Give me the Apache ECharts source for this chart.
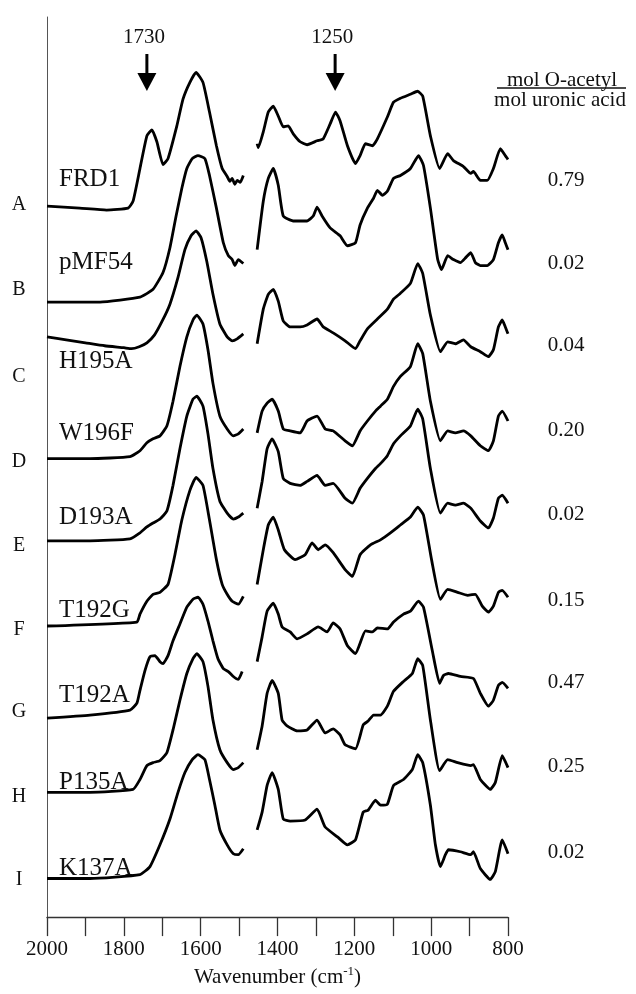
<!DOCTYPE html>
<html>
<head>
<meta charset="utf-8">
<script src="https://cdn.jsdelivr.net/npm/echarts@6/dist/echarts.min.js"></script>
<style>
  html, body { margin: 0; padding: 0; background: #fff; }
  #chart { width: 636px; height: 994px; }
</style>
</head>
<body>
<div id="chart"></div>
<script>
// sample letters, strain names and O-acetyl ratios (top to bottom)
const letters = ['A', 'B', 'C', 'D', 'E', 'F', 'G', 'H', 'I']
const strains = ['FRD1', 'pMF54', 'H195A', 'W196F', 'D193A', 'T192G', 'T192A', 'P135A', 'K137A']
const ratios = ['0.79', '0.02', '0.04', '0.20', '0.02', '0.15', '0.47', '0.25', '0.02']
// vertical offset of each spectrum (stacked plot, arbitrary absorbance units)
const offsets = [716, 620, 574, 461, 378, 294, 202, 124, 39]
// marked bands
const markWn = [1740, 1250]
const markText = ['1730', '1250']

// spectra: [wavenumber, absorbance above own baseline]
const frd1Left = [[2000,2],[1915,0],[1845,-2],[1789,0],[1776,7],[1758,40],[1740,73],[1727,79],[1714,67],[1698,44],[1685,50],[1662,83],[1646,110],[1628,127],[1612,137],[1594,127],[1577,97],[1559,63],[1544,40],[1531,32],[1524,27],[1518,30],[1511,24],[1505,28],[1497,26],[1489,33]]
const frd1Right = [[1453,65],[1450,61],[1437,77],[1424,97],[1411,103],[1398,93],[1385,82],[1372,83],[1359,75],[1341,67],[1323,64],[1297,68],[1281,70],[1263,85],[1249,97],[1237,88],[1218,63],[1197,45],[1185,53],[1171,65],[1153,63],[1140,70],[1114,92],[1098,107],[1080,111],[1054,115],[1035,118],[1022,113],[1002,73],[978,40],[957,55],[942,48],[916,42],[897,35],[890,37],[872,28],[854,28],[838,40],[820,60],[807,53],[800,49]]

const pmf54Left = [[2000,1],[1862,1],[1758,6],[1724,14],[1698,31],[1680,56],[1664,88],[1649,116],[1636,136],[1622,146],[1607,149],[1589,146],[1577,129],[1559,96],[1541,61],[1528,48],[1518,44],[1511,38],[1502,44],[1489,40]]
const pmf54Right = [[1453,54],[1437,103],[1424,126],[1411,136],[1398,119],[1385,88],[1359,83],[1323,83],[1307,88],[1297,97],[1284,88],[1263,76],[1237,68],[1218,58],[1197,61],[1185,79],[1166,96],[1150,106],[1140,114],[1127,109],[1114,113],[1098,126],[1080,129],[1054,136],[1033,149],[1020,139],[1002,96],[983,44],[973,34],[957,48],[942,44],[924,41],[910,46],[897,51],[885,41],[872,38],[854,38],[838,44],[825,61],[815,69],[807,61],[800,54]]

const h195aLeft = [[2000,12],[1950,9],[1900,6],[1850,3],[1800,1],[1780,0],[1760,2],[1740,6],[1720,14],[1700,28],[1680,45],[1659,72],[1641,100],[1625,114],[1612,119],[1599,112],[1584,88],[1568,55],[1550,25],[1531,12],[1518,8],[1505,10],[1489,15]]
const h195aRight = [[1453,5],[1437,40],[1424,55],[1411,60],[1398,48],[1385,28],[1367,22],[1341,22],[1323,24],[1297,30],[1281,22],[1255,16],[1224,8],[1197,0],[1185,8],[1166,20],[1140,30],[1114,40],[1098,50],[1080,56],[1054,66],[1035,86],[1022,76],[1002,34],[976,-3],[957,7],[937,5],[916,9],[897,2],[872,-3],[851,-8],[838,-1],[825,22],[815,29],[807,22],[800,15]]

const w196fLeft = [[2000,2],[1888,2],[1784,4],[1758,10],[1740,18],[1724,22],[1706,25],[1688,35],[1672,60],[1654,95],[1636,125],[1620,142],[1610,147],[1594,138],[1581,112],[1568,78],[1550,45],[1531,32],[1515,25],[1502,27],[1489,32]]
const w196fRight = [[1453,28],[1440,50],[1427,58],[1414,62],[1398,50],[1385,32],[1367,30],[1341,28],[1323,40],[1297,45],[1276,32],[1255,30],[1224,20],[1205,15],[1185,30],[1166,40],[1145,50],[1132,55],[1114,62],[1098,75],[1080,85],[1054,95],[1035,118],[1022,108],[1002,60],[976,20],[957,30],[937,28],[916,30],[897,25],[872,15],[851,10],[838,20],[825,45],[815,50],[800,40]]

const d193aLeft = [[2000,2],[1888,2],[1784,4],[1758,10],[1740,16],[1724,20],[1706,24],[1688,32],[1672,58],[1654,95],[1636,128],[1620,145],[1610,148],[1594,138],[1581,110],[1568,75],[1550,42],[1531,30],[1515,24],[1502,26],[1489,30]]
const d193aRight = [[1453,35],[1440,62],[1427,95],[1414,105],[1398,92],[1385,65],[1367,60],[1341,58],[1323,62],[1297,68],[1276,58],[1255,60],[1224,45],[1205,40],[1185,55],[1166,65],[1145,75],[1132,80],[1114,88],[1098,100],[1080,108],[1054,118],[1035,135],[1022,125],[1002,75],[976,30],[957,40],[937,38],[916,40],[897,35],[872,22],[851,15],[838,25],[825,45],[815,48],[800,40]]

const t192gLeft = [[2000,0],[1766,4],[1758,12],[1740,25],[1724,32],[1706,34],[1685,42],[1667,72],[1649,107],[1628,137],[1612,150],[1594,142],[1577,107],[1559,67],[1544,42],[1531,32],[1518,25],[1502,22],[1489,30]]
const t192gRight = [[1453,42],[1437,77],[1424,102],[1411,110],[1398,97],[1382,77],[1354,67],[1328,72],[1310,84],[1294,77],[1276,82],[1255,74],[1224,57],[1205,50],[1185,72],[1158,82],[1132,87],[1106,94],[1080,102],[1054,110],[1035,120],[1020,112],[999,67],[976,27],[957,37],[931,34],[905,31],[885,32],[867,20],[851,14],[838,20],[825,34],[815,36],[800,29]]

const t192aLeft = [[2000,-1],[1888,2],[1784,7],[1766,14],[1758,27],[1745,47],[1732,61],[1719,62],[1706,56],[1698,54],[1685,62],[1672,77],[1654,94],[1636,111],[1620,119],[1607,121],[1594,114],[1581,97],[1568,77],[1555,59],[1541,49],[1528,46],[1515,41],[1502,38],[1492,46]]
const t192aRight = [[1453,56],[1440,81],[1427,107],[1411,115],[1398,104],[1388,91],[1367,86],[1349,79],[1323,84],[1294,91],[1271,86],[1255,95],[1237,89],[1218,72],[1197,64],[1171,87],[1153,86],[1140,90],[1114,89],[1098,96],[1072,104],[1054,107],[1033,117],[1020,111],[997,67],[978,34],[968,42],[955,44],[924,41],[890,39],[872,24],[851,11],[838,17],[825,32],[815,35],[800,29]]

const p135aLeft = [[2000,2],[1888,2],[1776,5],[1758,15],[1740,29],[1724,32],[1706,34],[1688,42],[1672,65],[1654,95],[1636,122],[1620,137],[1610,142],[1594,134],[1581,109],[1568,75],[1550,45],[1531,32],[1515,25],[1502,27],[1489,32]]
const p135aRight = [[1453,45],[1440,69],[1427,102],[1414,115],[1398,102],[1388,75],[1375,69],[1349,64],[1323,65],[1297,75],[1276,62],[1255,66],[1237,60],[1224,50],[1197,46],[1177,70],[1164,74],[1150,80],[1132,80],[1114,89],[1098,104],[1072,114],[1049,122],[1035,137],[1022,130],[1002,75],[978,24],[957,35],[931,32],[897,29],[890,30],[872,15],[846,5],[833,12],[815,39],[800,27]]

const k137aLeft = [[2000,0],[1888,0],[1758,4],[1732,12],[1706,34],[1680,60],[1659,87],[1641,107],[1622,120],[1607,125],[1589,120],[1577,100],[1563,74],[1550,49],[1531,34],[1515,25],[1502,24],[1489,30]]
const k137aRight = [[1453,49],[1440,67],[1427,94],[1414,107],[1398,90],[1385,60],[1367,58],[1328,59],[1297,70],[1276,52],[1244,42],[1218,34],[1197,39],[1177,67],[1164,69],[1145,79],[1132,74],[1114,75],[1098,94],[1072,100],[1049,110],[1035,125],[1022,117],[1002,74],[989,34],[976,12],[963,24],[955,29],[924,27],[897,24],[890,27],[872,10],[846,-1],[833,7],[815,39],[800,25]]

const spectra = [
  [frd1Left, frd1Right], [pmf54Left, pmf54Right], [h195aLeft, h195aRight],
  [w196fLeft, w196fRight], [d193aLeft, d193aRight], [t192gLeft, t192gRight],
  [t192aLeft, t192aRight], [p135aLeft, p135aRight], [k137aLeft, k137aRight]
]

const FONT = '"Liberation Serif", "Times New Roman", serif'
const chart = echarts.init(document.getElementById('chart'))

const seriesItems = []
spectra.forEach((segs, i) => {
  segs.forEach(seg => {
    seriesItems.push({
      type: 'line',
      data: seg.map(([wn, a]) => [wn, a + offsets[i]]),
      symbol: 'none',
      smooth: 0.15,
      silent: true,
      lineStyle: { color: '#000', width: 2.8 }
    })
  })
})

const options = {
  animation: false,
  grid: { left: 47, right: 128, top: 17, bottom: 68 },
  xAxis: {
    type: 'value',
    min: 800,
    max: 2000,
    interval: 100,
    inverse: true,
    axisLine: { lineStyle: { color: '#333', width: 1.3 } },
    axisTick: { length: 19, lineStyle: { color: '#333', width: 1.3 } },
    axisLabel: {
      formatter: v => (v % 200 === 0 ? String(v) : ''),
      fontSize: 21,
      fontFamily: FONT,
      color: '#111',
      margin: 22
    },
    splitLine: { show: false },
    name: 'Wavenumber (cm{sup|-1})',
    nameLocation: 'middle',
    nameGap: 42,
    nameTextStyle: {
      fontSize: 21,
      fontFamily: FONT,
      color: '#111',
      lineHeight: 24,
      rich: { sup: { fontSize: 13, fontFamily: FONT, color: '#111', verticalAlign: 'top', lineHeight: 14 } }
    }
  },
  yAxis: {
    type: 'value',
    min: 0,
    max: 909,
    axisLine: { show: true, lineStyle: { color: '#555', width: 1 } },
    axisTick: { show: false },
    axisLabel: { show: false },
    splitLine: { show: false }
  },
  series: seriesItems
}
chart.setOption(options)

// annotations: letters, strain names, ratios, header and band arrows
const textStyle = (extra) => Object.assign({ fontSize: 21, fontFamily: FONT, fill: '#111' }, extra)
const letterY = [205, 290, 377, 462, 546, 630, 712, 797, 880]
const strainY = [179, 262, 361, 433, 517, 610, 695, 782, 868]
const ratioY = [180, 263, 345, 430, 514, 600, 682, 766, 852]

const graphics = []
letters.forEach((t, i) => {
  graphics.push({ type: 'text', x: 19, y: letterY[i], style: textStyle({ text: t, fontSize: 20, align: 'center', verticalAlign: 'middle' }) })
  graphics.push({ type: 'text', x: 59, y: strainY[i], style: textStyle({ text: strains[i], fontSize: 25, align: 'left', verticalAlign: 'middle' }) })
  graphics.push({ type: 'text', x: 566, y: ratioY[i], style: textStyle({ text: ratios[i], align: 'center', verticalAlign: 'middle' }) })
})
graphics.push({ type: 'text', x: 562, y: 80, style: textStyle({ text: 'mol O-acetyl', align: 'center', verticalAlign: 'middle' }) })
graphics.push({ type: 'line', shape: { x1: 497, y1: 88, x2: 626, y2: 88 }, style: { stroke: '#111', lineWidth: 1.4 } })
graphics.push({ type: 'text', x: 560, y: 100, style: textStyle({ text: 'mol uronic acid', align: 'center', verticalAlign: 'middle' }) })

markWn.forEach((wn, i) => {
  const x = chart.convertToPixel({ xAxisIndex: 0 }, wn)
  graphics.push({ type: 'text', x: x - 3, y: 37, style: textStyle({ text: markText[i], align: 'center', verticalAlign: 'middle' }) })
  graphics.push({ type: 'rect', shape: { x: x - 1.5, y: 54, width: 3, height: 22 }, style: { fill: '#000' } })
  graphics.push({ type: 'polygon', shape: { points: [[x - 9.5, 73], [x + 9.5, 73], [x, 91]] }, style: { fill: '#000' } })
})
chart.setOption({ graphic: graphics })
</script>
</body>
</html>
